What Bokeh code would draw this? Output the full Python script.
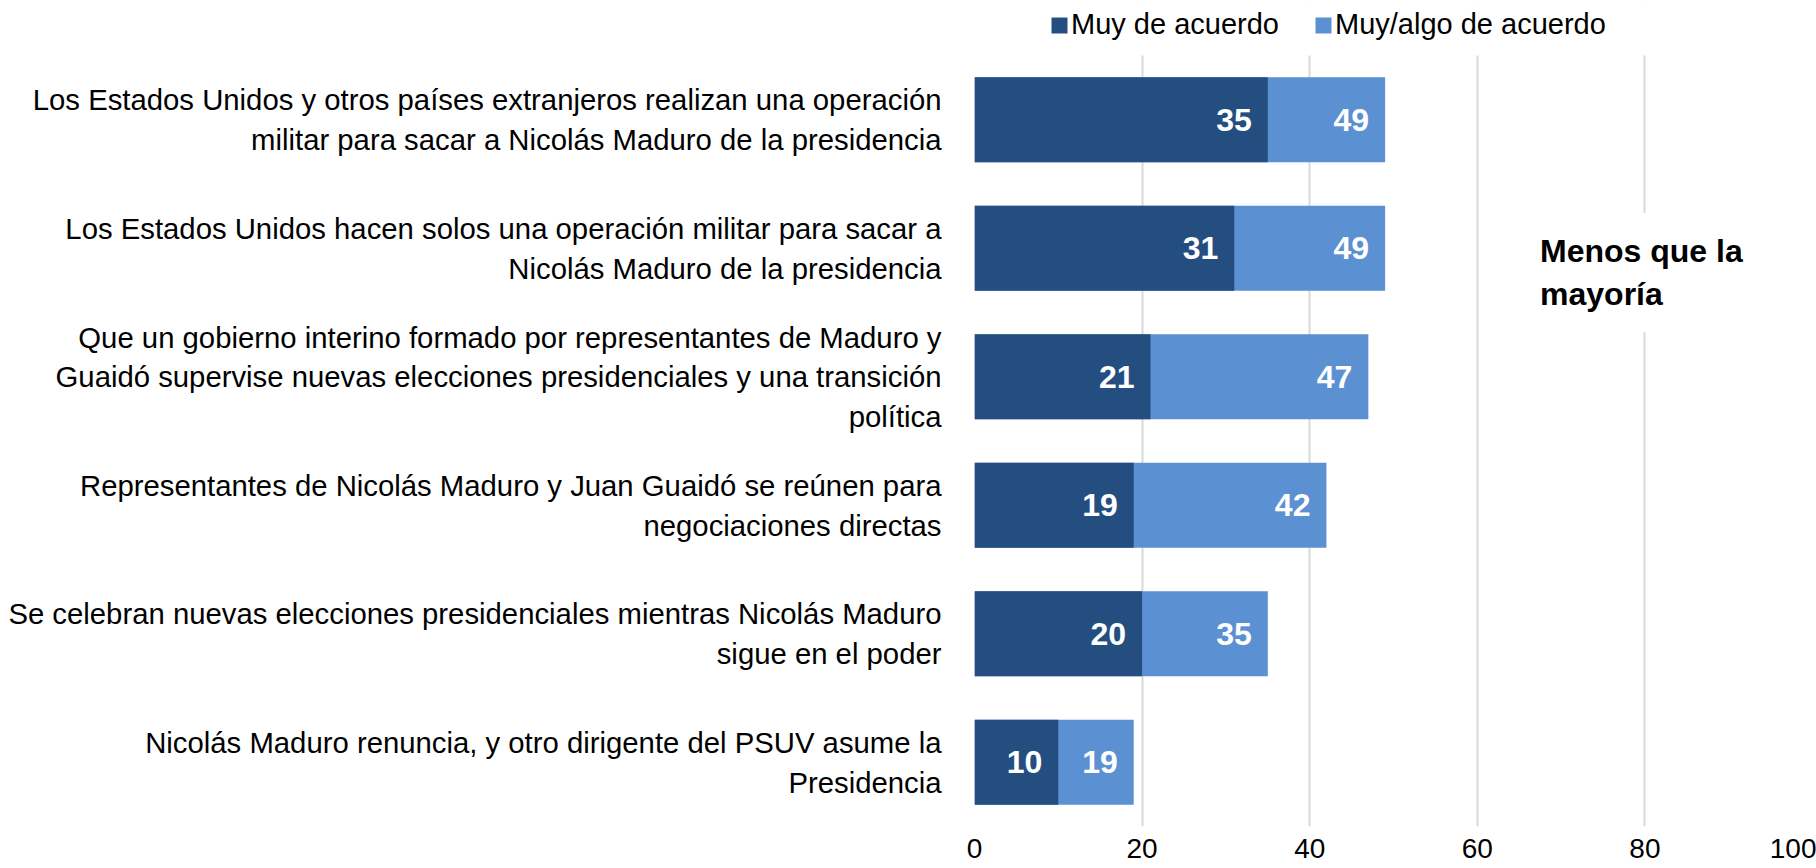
from bokeh.plotting import figure
from bokeh.models import ColumnDataSource, FixedTicker, Legend, LegendItem, Label, BoxAnnotation
from bokeh.core.properties import value
from bokeh.embed import file_html
from bokeh.resources import INLINE

categories = [
    "Los Estados Unidos y otros países extranjeros realizan una operación\nmilitar para sacar a Nicolás Maduro de la presidencia",
    "Los Estados Unidos hacen solos una operación militar para sacar a\nNicolás Maduro de la presidencia",
    "Que un gobierno interino formado por representantes de Maduro y\nGuaidó supervise nuevas elecciones presidenciales y una transición\npolítica",
    "Representantes de Nicolás Maduro y Juan Guaidó se reúnen para\nnegociaciones directas",
    "Se celebran nuevas elecciones presidenciales mientras Nicolás Maduro\nsigue en el poder",
    "Nicolás Maduro renuncia, y otro dirigente del PSUV asume la\nPresidencia",
]
muy_de_acuerdo = [35, 31, 21, 19, 20, 10]
muy_algo_de_acuerdo = [49, 49, 47, 42, 35, 19]
x_ticks = [0, 20, 40, 60, 80, 100]
series_names = ["Muy de acuerdo", "Muy/algo de acuerdo"]
note_text = "Menos que la\nmayoría"

DARK = "#254E80"
LIGHT = "#5B90D2"
FONT = "Liberation Sans"

n = len(categories)
ypos = list(range(n, 0, -1))
legend_strip = 0.428  # extra room above the bars (in category units) for the legend

src = ColumnDataSource(dict(
    y=ypos,
    dark=muy_de_acuerdo,
    light=muy_algo_de_acuerdo,
    dark_lbl=[str(v) for v in muy_de_acuerdo],
    light_lbl=[str(v) for v in muy_algo_de_acuerdo],
))

p = figure(width=1816, height=864, x_range=(0, 100), y_range=(0.5, n + 0.5 + legend_strip),
           output_backend="svg", toolbar_location=None,
           min_border_left=974, min_border_right=4, min_border_top=0, min_border_bottom=38)
p.outline_line_color = None
p.background_fill_color = "white"
p.border_fill_color = "white"

r_light = p.hbar(y="y", left=0, right="light", height=0.66, source=src,
                 fill_color=LIGHT, line_color=None)
r_dark = p.hbar(y="y", left=0, right="dark", height=0.66, source=src,
                fill_color=DARK, line_color=None)

p.text(x="dark", y="y", text="dark_lbl", source=src, x_offset=-16,
       text_align="right", text_baseline="middle", text_color="white",
       text_font=value(FONT), text_font_style="bold", text_font_size="32px")
p.text(x="light", y="y", text="light_lbl", source=src, x_offset=-16,
       text_align="right", text_baseline="middle", text_color="white",
       text_font=value(FONT), text_font_style="bold", text_font_size="32px")

p.xaxis.ticker = FixedTicker(ticks=x_ticks)
p.xaxis.axis_line_color = None
p.xaxis.major_tick_line_color = None
p.xaxis.minor_tick_line_color = None
p.xaxis.major_label_text_font = FONT
p.xaxis.major_label_text_font_size = "28px"
p.xaxis.major_label_text_color = "black"
p.xaxis.major_label_standoff = 6

p.yaxis.ticker = FixedTicker(ticks=ypos)
p.yaxis.major_label_overrides = {y: c for y, c in zip(ypos, categories)}
p.yaxis.axis_line_color = None
p.yaxis.major_tick_line_color = None
p.yaxis.minor_tick_line_color = None
p.yaxis.major_label_text_font = FONT
p.yaxis.major_label_text_font_size = "29.3px"
p.yaxis.major_label_text_color = "black"
p.yaxis.major_label_standoff = 27

p.xgrid.ticker = FixedTicker(ticks=x_ticks)
p.xgrid.grid_line_color = "#D9D9D9"
p.xgrid.grid_line_width = 2
p.ygrid.grid_line_color = None

# white strip above the bars so gridlines stop below the legend
strip = BoxAnnotation(bottom=n + 0.5, fill_color="white", fill_alpha=1.0, line_color=None)
p.add_layout(strip)

note = Label(x=65.1, y=4.81, text=note_text, text_align="left", text_baseline="middle",
             text_font=FONT, text_font_style="bold", text_font_size="32px",
             text_color="black", background_fill_color="white", padding=20)
p.add_layout(note)

legend = Legend(items=[LegendItem(label=series_names[0], renderers=[r_dark]),
                       LegendItem(label=series_names[1], renderers=[r_light])],
                orientation="horizontal", location=(75, 785),
                label_text_font=FONT, label_text_font_size="29px", label_text_color="black",
                glyph_width=20, glyph_height=20, label_standoff=2, spacing=34,
                padding=0, margin=0, border_line_color=None, background_fill_alpha=0)
p.add_layout(legend, "center")

open("out.html", "w").write(file_html(p, INLINE))
